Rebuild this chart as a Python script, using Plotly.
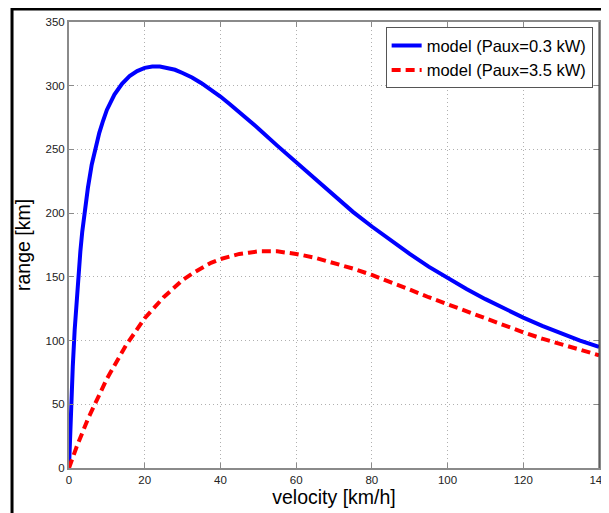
import plotly.graph_objects as go

# velocidade (km/h) e alcance (km)
vel_blue = [0, 0.25, 0.5, 0.75, 1, 1.5, 2, 2.5, 3, 3.5, 4, 5, 6, 7, 8, 9, 10, 12, 14, 16,
            18, 20, 22, 24, 26, 28, 30, 32.5, 35, 37.5, 40, 42.5, 45, 47.5, 50, 55, 60,
            65, 70, 75, 80, 85, 90, 95, 100, 105, 110, 115, 120, 125, 130, 135, 140]
range_blue = [0, 23.5, 44, 63, 80, 108.5, 133, 153, 170, 185.5, 199, 220, 238, 251.5,
              263, 272.5, 281, 293, 301.5, 307.5, 311.5, 314, 315, 315, 314, 312.5, 310,
              306.5, 302, 297, 291.5, 285.5, 279.5, 273, 266.5, 253, 240, 226.5, 213.5,
              201, 189.5, 178.5, 168, 158, 149, 140.5, 132.5, 125, 118, 111.5, 105.5,
              100, 95]

vel_red = [0, 1, 2, 5, 7.5, 10, 15, 20, 25, 30, 32.5, 35, 37.5, 40, 42.5, 45, 47.5, 50,
           52.5, 55, 57.5, 60, 65, 70, 75, 80, 85, 90, 95, 100, 105, 110, 115, 120, 125,
           130, 135, 140]
range_red = [0, 8.5, 16.5, 38.5, 55, 70, 96, 117.5, 134, 147.5, 152.5, 157, 161, 164,
             166, 168, 169, 170, 170, 170, 169, 168, 165, 161, 156.5, 151.5, 146, 140,
             134, 128.5, 122.5, 117, 111.5, 106.5, 101.5, 97, 92.5, 88.5]

x_ticks = [0, 20, 40, 60, 80, 100, 120, 140]
y_ticks = [0, 50, 100, 150, 200, 250, 300, 350]

fig = go.Figure()
fig.add_trace(go.Scatter(x=vel_blue, y=range_blue, mode='lines',
                         name='model (Paux=0.3 kW)',
                         line=dict(color='#0000ff', width=4)))
fig.add_trace(go.Scatter(x=vel_red, y=range_red, mode='lines',
                         name='model (Paux=3.5 kW)',
                         line=dict(color='#ff0000', width=4, dash='9px,5px')))

eixo = dict(showline=True, linecolor='#8a8a8a', linewidth=2, mirror='ticks',
            ticks='inside', ticklen=5, tickcolor='#8a8a8a',
            showgrid=True, gridcolor='#b0b0b0', griddash='1px,3px', gridwidth=1,
            zeroline=False, automargin=False, ticklabeloverflow='allow',
            tickfont=dict(size=11.5, color='#222222'))

# a pagina tem 8px de margem no body, por isso a figura comeca em (8, 8)
fig.update_layout(
    width=609, height=505,
    margin=dict(l=61, r=18, t=14, b=45),
    paper_bgcolor='white', plot_bgcolor='white',
    font=dict(family='Liberation Sans, Arial, sans-serif', color='#000000'),
    xaxis=dict(range=[0, 140], tickvals=x_ticks, title=dict(text='velocity [km/h]',
               font=dict(size=19.5), standoff=3), **eixo),
    yaxis=dict(range=[0, 350], tickvals=y_ticks, title=dict(text='range [km]',
               font=dict(size=19.5), standoff=10), **eixo),
    legend=dict(x=0.988, y=0.988, xanchor='right', yanchor='top',
                bgcolor='white', bordercolor='#555555', borderwidth=1,
                font=dict(size=16.5), tracegroupgap=0),
    showlegend=True,
)

# moldura preta da figura (so borda esquerda e superior aparecem)
fig.add_shape(type='rect', xref='paper', yref='paper',
              x0=-0.1075, x1=1.05, y0=-0.15, y1=1.029,
              line=dict(color='black', width=3), layer='above')
# borda direita do eixo mais escura
fig.add_shape(type='line', xref='paper', yref='paper', x0=1, x1=1, y0=0, y1=1,
              line=dict(color='#333333', width=1), layer='above')

fig.write_html("out.html")
